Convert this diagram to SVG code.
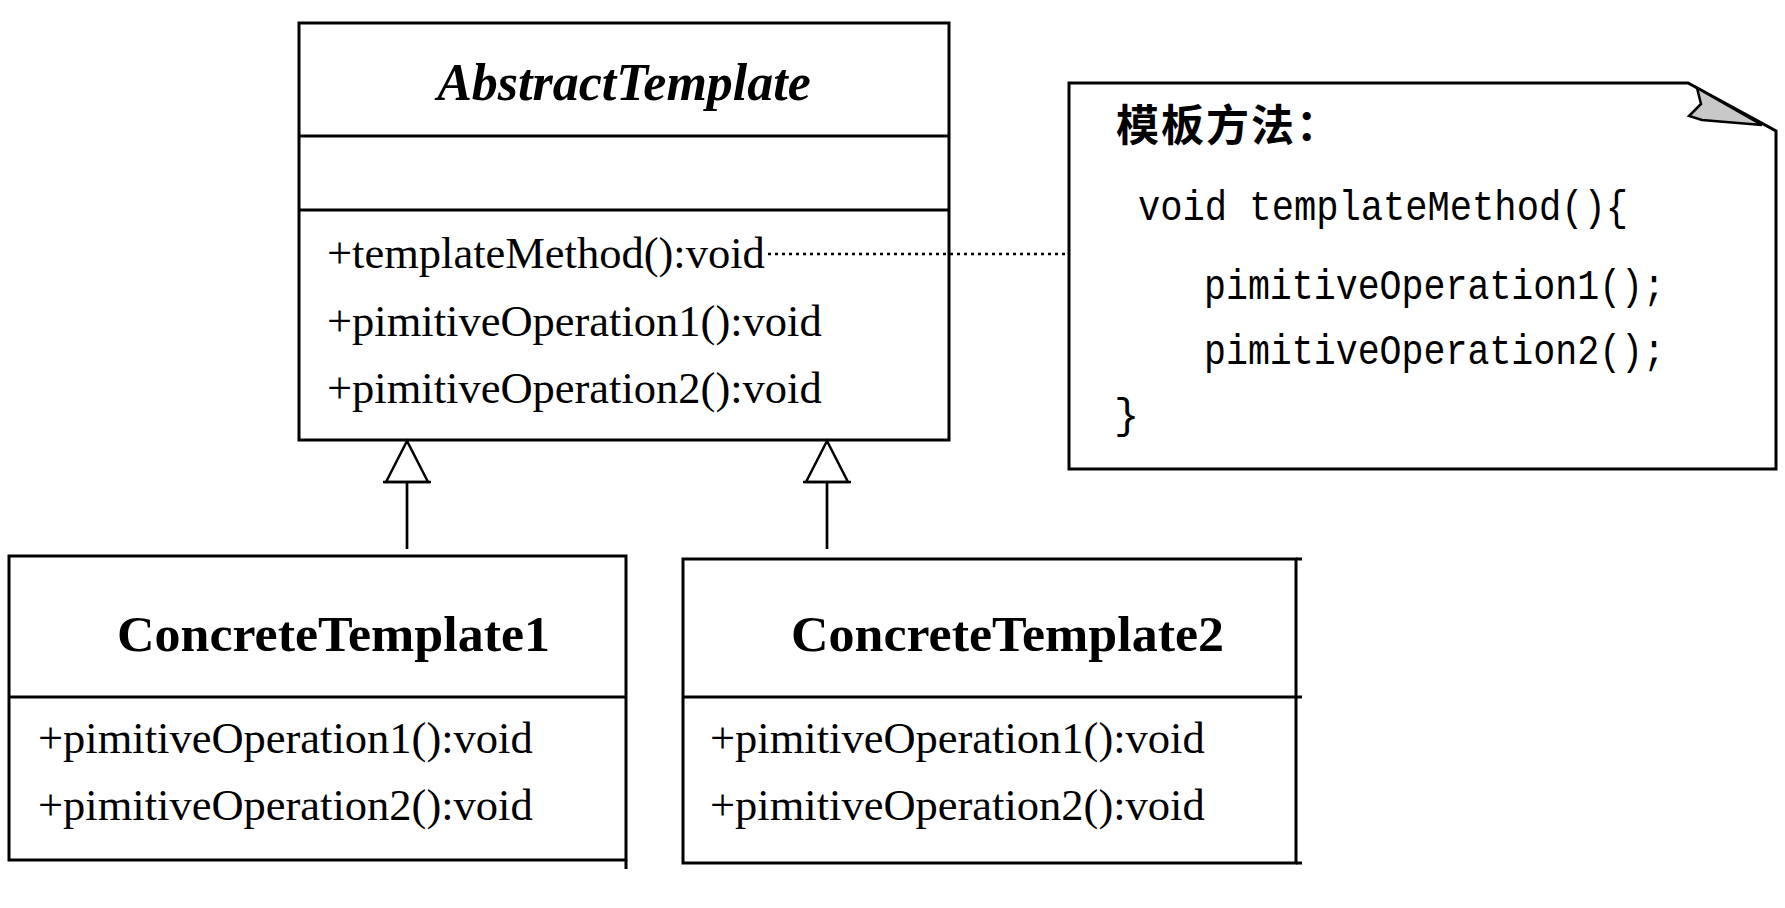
<svg xmlns="http://www.w3.org/2000/svg" width="1785" height="908" viewBox="0 0 1785 908">
  <style>
    .box { fill: #ffffff; stroke: #000000; stroke-width: 3; }
    .div { stroke: #000000; stroke-width: 3; fill: none; }
    .title { font-family: "Liberation Serif", "Times New Roman", serif; font-weight: bold; fill: #000; }
    .op { font-family: "Liberation Serif", "Times New Roman", serif; font-size: 44.5px; fill: #000; }
    .code { font-family: "Liberation Mono", "Courier New", monospace; font-size: 42px; fill: #000; }
    .cjk { font-family: "Liberation Sans", "Noto Sans CJK SC", sans-serif; font-weight: bold; font-size: 43px; fill: #000; }
    .gen { stroke: #000; stroke-width: 2.7; fill: none; }
    .dep { stroke: #000; stroke-width: 2.5; stroke-dasharray: 3 4; fill: none; }
  </style>
  <defs>
    <marker id="genArrow" markerUnits="userSpaceOnUse" markerWidth="50" markerHeight="56" viewBox="-3 -28 48 56" refX="0" refY="0" orient="auto">
      <path d="M0,-21 L41,0 L0,21 Z" fill="#ffffff" stroke="#000" stroke-width="2.5"/>
      <path d="M0,-24 L0,24" stroke="#000" stroke-width="2.5"/>
    </marker>
  </defs>
  <rect x="0" y="0" width="1785" height="908" fill="#ffffff"/>

  <g id="AbstractTemplate">
    <rect class="box" x="299" y="23" width="650" height="417"/>
    <line class="div" x1="299" y1="136" x2="949" y2="136"/>
    <line class="div" x1="299" y1="210" x2="949" y2="210"/>
    <text class="title" x="624" y="100" font-size="52" font-style="italic" text-anchor="middle">AbstractTemplate</text>
    <text class="op" x="327" y="268">+templateMethod():void</text>
    <text class="op" x="327" y="336">+pimitiveOperation1():void</text>
    <text class="op" x="327" y="403">+pimitiveOperation2():void</text>
  </g>

  <g id="note">
    <path class="box" d="M1069,83 L1688,83 L1776,131 L1776,469 L1069,469 Z"/>
    <path d="M1697,88 L1701,104 L1689,116 L1702,120 L1762,125 Z" fill="#c8c8c8" stroke="#000" stroke-width="2.5" stroke-linejoin="miter"/>
    <text class="cjk" x="1116" y="141" letter-spacing="2">模板方法：</text>
    <text class="code" x="1138" y="220" textLength="490" lengthAdjust="spacingAndGlyphs">void templateMethod(){</text>
    <text class="code" x="1204" y="299" textLength="461" lengthAdjust="spacingAndGlyphs">pimitiveOperation1();</text>
    <text class="code" x="1204" y="364" textLength="461" lengthAdjust="spacingAndGlyphs">pimitiveOperation2();</text>
    <text class="code" x="1114" y="428">}</text>
  </g>

  <g id="ConcreteTemplate1">
    <rect class="box" x="9" y="556" width="617" height="304"/>
    <line class="div" x1="9" y1="697" x2="626" y2="697"/>
    <line class="div" x1="626" y1="860" x2="626" y2="869"/>
    <text class="title" x="117" y="651" font-size="51" textLength="433" lengthAdjust="spacingAndGlyphs">ConcreteTemplate1</text>
    <text class="op" x="38" y="753">+pimitiveOperation1():void</text>
    <text class="op" x="38" y="820">+pimitiveOperation2():void</text>
  </g>

  <g id="ConcreteTemplate2">
    <rect class="box" x="683" y="559" width="613" height="304"/>
    <line class="div" x1="683" y1="697" x2="1302" y2="697"/>
    <line class="div" x1="1296" y1="559" x2="1302" y2="559"/>
    <line class="div" x1="1296" y1="863" x2="1302" y2="863"/>
    <text class="title" x="791" y="651" font-size="51" textLength="433" lengthAdjust="spacingAndGlyphs">ConcreteTemplate2</text>
    <text class="op" x="710" y="753">+pimitiveOperation1():void</text>
    <text class="op" x="710" y="820">+pimitiveOperation2():void</text>
  </g>

  <g id="connectors">
    <path class="gen" d="M407,549 L407,482" marker-end="url(#genArrow)"/>
    <path class="gen" d="M827,549 L827,482" marker-end="url(#genArrow)"/>
    <path class="dep" d="M768,254 L1068,254"/>
  </g>
</svg>
